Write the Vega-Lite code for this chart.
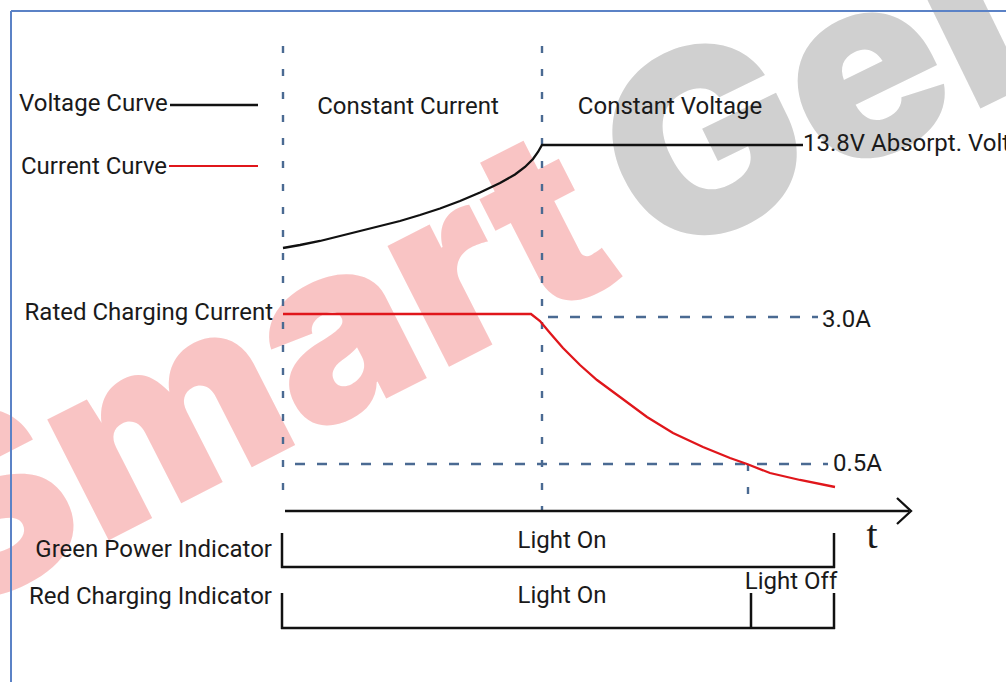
{
  "$schema": "https://vega.github.io/schema/vega-lite/v6.json",
  "width": 1006,
  "height": 682,
  "padding": 0,
  "autosize": {"type": "none"},
  "background": "white",
  "config": {"view": {"stroke": null}},
  "datasets": {
    "wm": [
      {"word": "Smart", "t": 627, "lvl": 276},
      {"word": "Gel", "t": 657, "lvl": 266}
    ],
    "segs": [
      {"kind": "border", "t": 11, "lvl": 11, "t2": 11, "lvl2": 682},
      {"kind": "border", "t": 11, "lvl": 11, "t2": 1006, "lvl2": 11},
      {"kind": "vguide", "t": 283, "lvl": 46, "t2": 283, "lvl2": 506},
      {"kind": "vguide", "t": 542, "lvl": 46, "t2": 542, "lvl2": 511},
      {"kind": "vguide", "t": 748, "lvl": 464, "t2": 748, "lvl2": 511},
      {"kind": "hguide", "t": 548, "lvl": 317, "t2": 818, "lvl2": 317},
      {"kind": "hguide", "t": 295, "lvl": 464, "t2": 828, "lvl2": 464},
      {"kind": "solid", "t": 285, "lvl": 511, "t2": 909, "lvl2": 511},
      {"kind": "solid", "t": 282, "lvl": 533, "t2": 282, "lvl2": 568},
      {"kind": "solid", "t": 281, "lvl": 567, "t2": 835, "lvl2": 567},
      {"kind": "solid", "t": 834, "lvl": 533, "t2": 834, "lvl2": 568},
      {"kind": "solid", "t": 282, "lvl": 593, "t2": 282, "lvl2": 629},
      {"kind": "solid", "t": 281, "lvl": 628, "t2": 835, "lvl2": 628},
      {"kind": "solid", "t": 751, "lvl": 593, "t2": 751, "lvl2": 628},
      {"kind": "solid", "t": 834, "lvl": 593, "t2": 834, "lvl2": 629},
      {"kind": "legendV", "t": 170, "lvl": 105, "t2": 258, "lvl2": 105},
      {"kind": "legendC", "t": 169, "lvl": 166, "t2": 258, "lvl2": 166}
    ],
    "curves": [
      {"series": "voltage", "i": 0, "t": 283, "lvl": 248},
      {"series": "voltage", "i": 1, "t": 300, "lvl": 245},
      {"series": "voltage", "i": 2, "t": 320, "lvl": 241},
      {"series": "voltage", "i": 3, "t": 340, "lvl": 236},
      {"series": "voltage", "i": 4, "t": 360, "lvl": 231},
      {"series": "voltage", "i": 5, "t": 380, "lvl": 226},
      {"series": "voltage", "i": 6, "t": 400, "lvl": 221},
      {"series": "voltage", "i": 7, "t": 420, "lvl": 215},
      {"series": "voltage", "i": 8, "t": 440, "lvl": 208.5},
      {"series": "voltage", "i": 9, "t": 460, "lvl": 201},
      {"series": "voltage", "i": 10, "t": 480, "lvl": 192.5},
      {"series": "voltage", "i": 11, "t": 500, "lvl": 183},
      {"series": "voltage", "i": 12, "t": 515, "lvl": 174.5},
      {"series": "voltage", "i": 13, "t": 525, "lvl": 167},
      {"series": "voltage", "i": 14, "t": 533, "lvl": 159},
      {"series": "voltage", "i": 15, "t": 538, "lvl": 152},
      {"series": "voltage", "i": 16, "t": 542, "lvl": 145},
      {"series": "voltage", "i": 17, "t": 803, "lvl": 145},
      {"series": "current", "i": 0, "t": 283, "lvl": 314},
      {"series": "current", "i": 1, "t": 531, "lvl": 314},
      {"series": "current", "i": 2, "t": 540, "lvl": 321},
      {"series": "current", "i": 3, "t": 550, "lvl": 333},
      {"series": "current", "i": 4, "t": 563, "lvl": 348},
      {"series": "current", "i": 5, "t": 580, "lvl": 365},
      {"series": "current", "i": 6, "t": 597, "lvl": 380},
      {"series": "current", "i": 7, "t": 620, "lvl": 397},
      {"series": "current", "i": 8, "t": 647, "lvl": 417},
      {"series": "current", "i": 9, "t": 673, "lvl": 433},
      {"series": "current", "i": 10, "t": 703, "lvl": 447},
      {"series": "current", "i": 11, "t": 730, "lvl": 458},
      {"series": "current", "i": 12, "t": 747, "lvl": 464},
      {"series": "current", "i": 13, "t": 770, "lvl": 473},
      {"series": "current", "i": 14, "t": 800, "lvl": 480},
      {"series": "current", "i": 15, "t": 835, "lvl": 487},
      {"series": "arrow", "i": 0, "t": 897, "lvl": 498},
      {"series": "arrow", "i": 1, "t": 911, "lvl": 511},
      {"series": "arrow", "i": 2, "t": 897, "lvl": 524}
    ],
    "labels": [
      {"label": "Voltage Curve", "pos": "left", "t": 19, "lvl": 104},
      {"label": "Current Curve", "pos": "left", "t": 21, "lvl": 167},
      {"label": "13.8V Absorpt. Voltage", "pos": "left", "t": 803, "lvl": 144},
      {"label": "3.0A", "pos": "left", "t": 822, "lvl": 320},
      {"label": "0.5A", "pos": "left", "t": 833, "lvl": 464},
      {"label": "Rated Charging Current", "pos": "right", "t": 273, "lvl": 313},
      {"label": "Green Power Indicator", "pos": "right", "t": 272, "lvl": 550},
      {"label": "Red Charging Indicator", "pos": "right", "t": 272, "lvl": 597},
      {"label": "Constant Current", "pos": "center", "t": 408, "lvl": 107},
      {"label": "Constant Voltage", "pos": "center", "t": 670, "lvl": 107},
      {"label": "Light On", "pos": "center", "t": 562, "lvl": 541},
      {"label": "Light On", "pos": "center", "t": 562, "lvl": 596},
      {"label": "Light Off", "pos": "center", "t": 791, "lvl": 582},
      {"label": "t", "pos": "serif", "t": 872, "lvl": 548}
    ]
  },
  "encoding": {
    "x": {"field": "t", "type": "quantitative", "scale": {"domain": [0, 1006], "nice": false, "zero": false}, "axis": null},
    "y": {"field": "lvl", "type": "quantitative", "scale": {"domain": [0, 682], "reverse": true, "nice": false, "zero": false}, "axis": null}
  },
  "layer": [
    {
      "data": {"name": "wm"},
      "transform": [{"filter": "datum.word === 'Smart'"}],
      "mark": {"type": "text", "align": "right", "baseline": "alphabetic", "angle": -27, "font": "Inter", "fontWeight": 900, "fontSize": 248, "color": "#f9c4c4"},
      "encoding": {"text": {"field": "word"}}
    },
    {
      "data": {"name": "wm"},
      "transform": [{"filter": "datum.word === 'Gel'"}],
      "mark": {"type": "text", "align": "left", "baseline": "alphabetic", "angle": -26, "font": "Inter", "fontWeight": 900, "fontSize": 255, "color": "#d0d0d0"},
      "encoding": {"text": {"field": "word"}}
    },
    {
      "data": {"name": "segs"},
      "transform": [{"filter": "datum.kind === 'border'"}],
      "mark": {"type": "rule", "color": "#5b82c6", "strokeWidth": 2},
      "encoding": {"x2": {"field": "t2"}, "y2": {"field": "lvl2"}}
    },
    {
      "data": {"name": "segs"},
      "transform": [{"filter": "datum.kind === 'vguide'"}],
      "mark": {"type": "rule", "color": "#4a6a92", "strokeWidth": 2.4, "strokeDash": [7, 16]},
      "encoding": {"x2": {"field": "t2"}, "y2": {"field": "lvl2"}}
    },
    {
      "data": {"name": "segs"},
      "transform": [{"filter": "datum.kind === 'hguide'"}],
      "mark": {"type": "rule", "color": "#4a6a92", "strokeWidth": 2.4, "strokeDash": [10, 12]},
      "encoding": {"x2": {"field": "t2"}, "y2": {"field": "lvl2"}}
    },
    {
      "data": {"name": "segs"},
      "transform": [{"filter": "datum.kind === 'solid' || datum.kind === 'legendV'"}],
      "mark": {"type": "rule", "color": "#111111", "strokeWidth": 2.5},
      "encoding": {"x2": {"field": "t2"}, "y2": {"field": "lvl2"}}
    },
    {
      "data": {"name": "segs"},
      "transform": [{"filter": "datum.kind === 'legendC'"}],
      "mark": {"type": "rule", "color": "#e0161b", "strokeWidth": 2.2},
      "encoding": {"x2": {"field": "t2"}, "y2": {"field": "lvl2"}}
    },
    {
      "data": {"name": "curves"},
      "mark": {"type": "line", "strokeWidth": 2.3, "strokeJoin": "miter"},
      "encoding": {
        "detail": {"field": "series"},
        "order": {"field": "i", "type": "quantitative"},
        "color": {"field": "series", "type": "nominal", "scale": {"domain": ["voltage", "current", "arrow"], "range": ["#111111", "#e0161b", "#111111"]}, "legend": null}
      }
    },
    {
      "data": {"name": "labels"},
      "transform": [{"filter": "datum.pos === 'left'"}],
      "mark": {"type": "text", "align": "left", "baseline": "middle", "font": "Roboto", "fontSize": 24, "color": "#1a1a1a"},
      "encoding": {"text": {"field": "label"}}
    },
    {
      "data": {"name": "labels"},
      "transform": [{"filter": "datum.pos === 'right'"}],
      "mark": {"type": "text", "align": "right", "baseline": "middle", "font": "Roboto", "fontSize": 24, "color": "#1a1a1a"},
      "encoding": {"text": {"field": "label"}}
    },
    {
      "data": {"name": "labels"},
      "transform": [{"filter": "datum.pos === 'center'"}],
      "mark": {"type": "text", "align": "center", "baseline": "middle", "font": "Roboto", "fontSize": 24, "color": "#1a1a1a"},
      "encoding": {"text": {"field": "label"}}
    },
    {
      "data": {"name": "labels"},
      "transform": [{"filter": "datum.pos === 'serif'"}],
      "mark": {"type": "text", "align": "center", "baseline": "alphabetic", "font": "Liberation Serif", "fontSize": 40, "color": "#1a1a1a"},
      "encoding": {"text": {"field": "label"}}
    }
  ]
}
